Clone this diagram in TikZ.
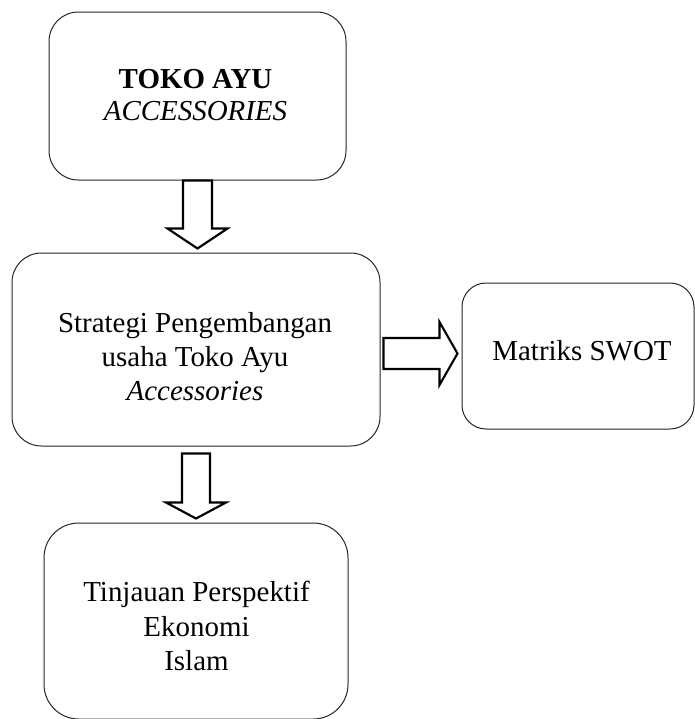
\documentclass[tikz,border=0pt]{standalone}
\usepackage{fontspec}
\setmainfont{Liberation Serif}
\usetikzlibrary{calc}

\tikzset{
  rbox/.style={draw=black!85, line width=0.75pt, rounded corners=22pt, inner sep=0pt},
  boxtext/.style={align=center, font=\fontsize{21.7}{25.8}\selectfont, inner sep=0pt},
  blockarr/.style={draw=black, line width=1.6pt, fill=white, line join=miter}
}

\begin{document}
\begin{tikzpicture}[x=0.75pt,y=0.75pt,yscale=-1,xscale=1]
\useasboundingbox (0,0) rectangle (695,719);

% Boxes
\node[rbox, minimum width=297*0.75pt, minimum height=168*0.75pt] (toko) at (197.5,96) {};
\node[rbox, minimum width=368*0.75pt, minimum height=193*0.75pt] (strat) at (196,349.5) {};
\node[rbox, minimum width=232*0.75pt, minimum height=146*0.75pt, rounded corners=18pt] (swot) at (578,356) {};
\node[rbox, minimum width=304*0.75pt, minimum height=196*0.75pt, rounded corners=26pt] (islam) at (196,621) {};

% Text Node
\node[boxtext] (tokotxt) at ($(toko)+(-2,-1)$) {\textbf{TOKO AYU}\\[-1.5pt]\textit{ACCESSORIES}};
% Text Node
\node[boxtext] (strattxt) at ($(strat)+(-1,7)$) {Strategi Pengembangan\\usaha Toko Ayu\\\textit{Accessories}};
% Text Node
\node[boxtext] (swottxt) at ($(swot)+(4,-5)$) {Matriks SWOT};
% Text Node
\node[boxtext] (islamtxt) at ($(islam)+(0.5,5)$) {Tinjauan Perspektif\\Ekonomi\\Islam};

% Block arrows
\draw[blockarr] ($(toko.south)+(-14.5,0)$) -- ++(0,48) -- ++(-15.5,0) -- ++(30,20)
  -- ++(30,-20) -- ++(-15.5,0) -- ++(0,-48) -- cycle;
\draw[blockarr] ($(strat.south)+(-14,7)$) -- ++(0,49) -- ++(-16,0) -- ++(30,16)
  -- ++(30,-16) -- ++(-16,0) -- ++(0,-49) -- cycle;
\draw[blockarr] ($(strat.east)+(3,-11.5)$) -- ++(56,0) -- ++(0,-16) -- ++(18,31.5)
  -- ++(-18,31.5) -- ++(0,-16) -- ++(-56,0) -- cycle;

\end{tikzpicture}
\end{document}
